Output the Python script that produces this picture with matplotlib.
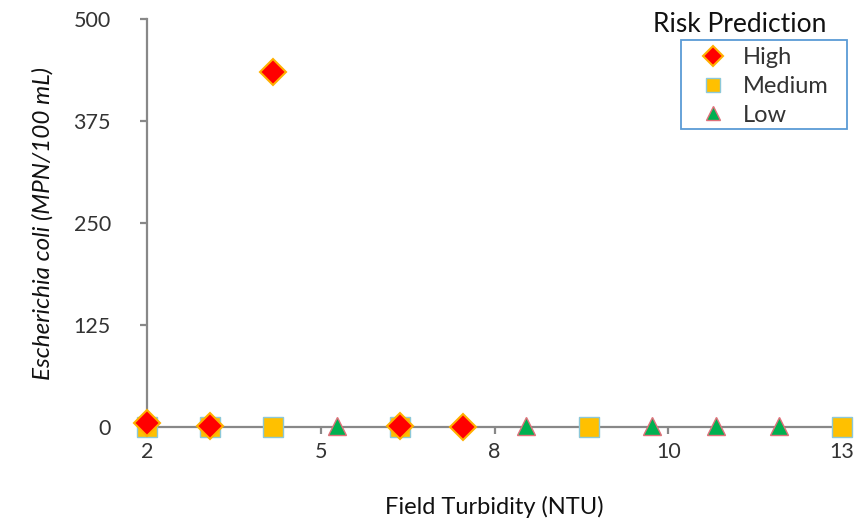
import matplotlib.pyplot as plt
import matplotlib.ticker as mticker
from matplotlib.patches import Rectangle

plt.rcParams['font.family'] = ['Lato', 'DejaVu Sans']

# Risk prediction groups (field turbidity NTU, E. coli MPN/100 mL)
high_x = [2, 3, 4, 6, 7]
high_y = [5, 1, 435, 1, 0]
medium_x = [2, 3, 4, 6, 9, 13]
medium_y = [0, 0, 0, 0, 0, 0]
low_x = [4, 5, 8, 9, 10, 11, 12, 13]
low_y = [0, 1, 1, 0, 1, 1, 1, 0]

x_ticks = [2, 4.75, 7.5, 10.25, 13]
x_labels = ['2', '5', '8', '10', '13']
y_ticks = [0, 125, 250, 375, 500]

fig = plt.figure(figsize=(8.57, 5.21), dpi=100)
ax = fig.add_axes([147 / 857, 1 - 427 / 521, 695 / 857, 408 / 521])

ax.plot(low_x, low_y, '^', ms=13.5, mfc='#00B050', mec='#E0707A', mew=1, ls='none',
        label='Low', zorder=3, clip_on=False)
ax.plot(medium_x, medium_y, 's', ms=14, mfc='#FFC000', mec='#8CC8D8', mew=1, ls='none',
        label='Medium', zorder=4, clip_on=False)
ax.plot(high_x, high_y, 'D', ms=13, mfc='#FF0000', mec='#FFB000', mew=1.5, ls='none',
        label='High', zorder=5, clip_on=False)

ax.set_xlim(2, 13)
ax.set_ylim(0, 500)
ax.set_xticks(x_ticks)
ax.xaxis.set_major_formatter(mticker.FixedFormatter(x_labels))
ax.set_yticks(y_ticks)

for s in ['top', 'right']:
    ax.spines[s].set_visible(False)
for s in ['left', 'bottom']:
    ax.spines[s].set_color('#888888')
    ax.spines[s].set_linewidth(1.6)
    ax.spines[s].set_zorder(2)

ax.tick_params(axis='x', direction='out', length=5, width=1.6, color='#888888',
               labelsize=15.5, pad=6, labelcolor='#333333')
ax.tick_params(axis='y', direction='out', length=5, width=1.6, color='#888888',
               labelsize=15.5, pad=21, labelcolor='#333333')

ax.set_xlabel('Field Turbidity (NTU)', fontsize=17, labelpad=24, color='#111111')
ax.set_ylabel('Escherichia coli (MPN/100 mL)', fontsize=17.5, style='italic',
              labelpad=14, color='#111111')

handles, labels = ax.get_legend_handles_labels()
leg = ax.legend(handles[::-1], labels[::-1], loc='upper left',
                bbox_to_anchor=(681 / 857, 1 - 40 / 521), bbox_transform=fig.transFigure,
                borderaxespad=0, fontsize=17, frameon=False, markerscale=0.75,
                labelspacing=0.33, handletextpad=0.2, borderpad=0.3, handlelength=2.1)
for t in leg.get_texts():
    t.set_color('#333333')
fig.patches.append(Rectangle((681 / 857, 1 - 129 / 521), 166 / 857, 89 / 521,
                             transform=fig.transFigure, fill=False,
                             ec='#5B9BD5', lw=1.3))
fig.text(740 / 857, 1 - 24 / 521, 'Risk Prediction', fontsize=19, ha='center',
         va='center', color='#111111')

fig.savefig('out.png', dpi=100)
